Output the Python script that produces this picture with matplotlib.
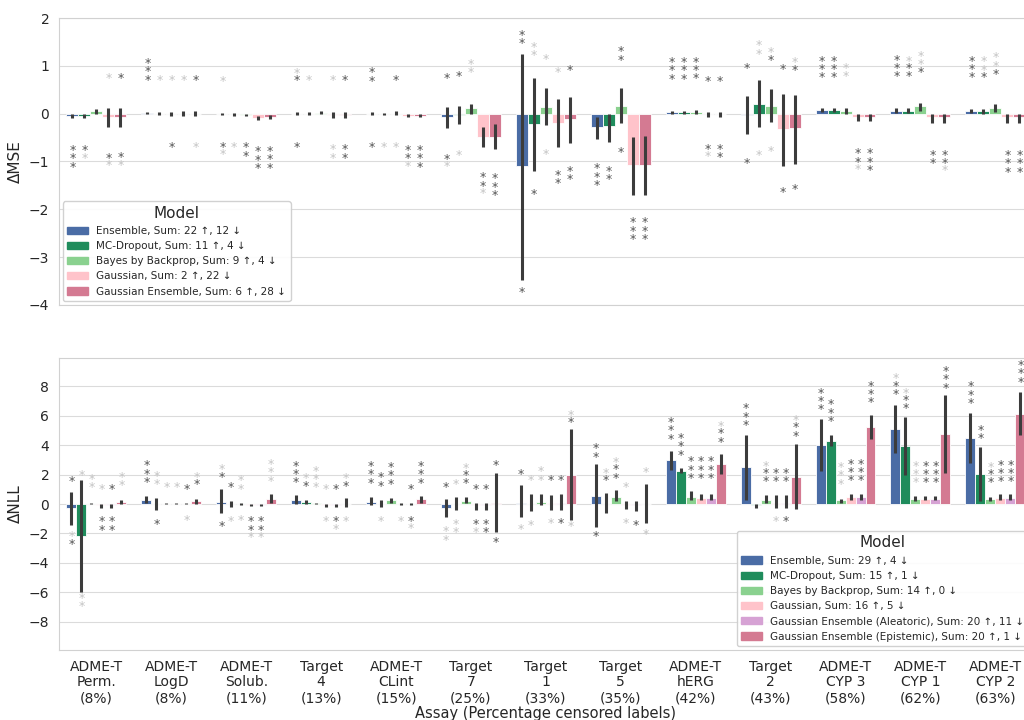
import numpy as np
import matplotlib.pyplot as plt
import seaborn as sns
from itertools import groupby

sns.set_style('whitegrid', {'grid.color': '0.86', 'axes.edgecolor': '0.82'})
plt.rcParams['font.family'] = ['DejaVu Sans']

assays = ['ADME-T\nPerm.\n(8%)', 'ADME-T\nLogD\n(8%)', 'ADME-T\nSolub.\n(11%)', 'Target\n4\n(13%)',
          'ADME-T\nCLint\n(15%)', 'Target\n7\n(25%)', 'Target\n1\n(33%)', 'Target\n5\n(35%)',
          'ADME-T\nhERG\n(42%)', 'Target\n2\n(43%)', 'ADME-T\nCYP 3\n(58%)', 'ADME-T\nCYP 1\n(62%)',
          'ADME-T\nCYP 2\n(63%)']

# ---- top panel: delta MSE ----
mse_models = ['Ensemble', 'MC-Dropout', 'Bayes by Backprop', 'Gaussian', 'Gaussian Ensemble']
mse_n_up = [22, 11, 9, 2, 6]
mse_n_dn = [12, 4, 4, 22, 28]
mse_mean = [
    [-0.05, 0.02, 0.0, 0.0, 0.0, -0.08, -1.1, -0.27, 0.03, -0.02, 0.07, 0.06, 0.05],
    [-0.04, 0.0, 0.0, 0.0, 0.0, -0.02, -0.21, -0.25, 0.03, 0.2, 0.07, 0.06, 0.05],
    [0.05, 0.0, -0.02, 0.02, 0.0, 0.12, 0.14, 0.15, 0.04, 0.17, 0.06, 0.15, 0.11],
    [-0.07, 0.0, -0.1, -0.02, -0.04, -0.48, -0.19, -1.07, 0.0, -0.32, -0.06, -0.08, -0.08],
    [-0.06, 0.0, -0.07, -0.02, -0.04, -0.48, -0.12, -1.07, 0.0, -0.31, -0.06, -0.08, -0.08],
]
mse_lo = [
    [-0.1, 0.0, -0.02, -0.03, -0.02, -0.3, -3.48, -0.52, 0.0, -0.43, 0.03, 0.02, 0.01],
    [-0.09, -0.02, -0.05, -0.02, -0.02, -0.22, -1.19, -0.6, 0.0, -0.27, 0.03, 0.02, 0.0],
    [0.0, -0.05, -0.05, 0.0, -0.03, 0.0, -0.24, -0.2, 0.0, -0.17, 0.0, 0.05, 0.03],
    [-0.28, -0.04, -0.14, -0.09, -0.07, -0.7, -0.69, -1.69, -0.06, -1.09, -0.15, -0.2, -0.2],
    [-0.27, -0.04, -0.12, -0.09, -0.08, -0.73, -0.62, -1.71, -0.06, -1.05, -0.15, -0.2, -0.2],
]
mse_hi = [
    [0.0, 0.04, 0.02, 0.03, 0.03, 0.13, 1.24, -0.06, 0.06, 0.36, 0.11, 0.12, 0.1],
    [0.0, 0.03, 0.02, 0.03, 0.02, 0.16, 0.74, 0.0, 0.06, 0.7, 0.11, 0.12, 0.1],
    [0.1, 0.03, 0.0, 0.05, 0.05, 0.21, 0.54, 0.54, 0.08, 0.52, 0.12, 0.22, 0.2],
    [0.12, 0.05, -0.05, 0.03, -0.01, -0.27, 0.3, -0.48, 0.03, 0.41, 0.0, 0.0, 0.0],
    [0.12, 0.06, -0.03, 0.03, -0.01, -0.22, 0.35, -0.47, 0.04, 0.39, 0.0, 0.0, 0.0],
]
# significance stars: d = dark, l = light, listed from the bar outwards
mse_up_pat = [
    ['', 'ddd', 'l', 'dl', 'dd', 'd', 'dd', '', 'ddd', 'd', 'ddd', 'ddd', 'ddd'],
    ['', 'l', '', 'l', '', 'd', 'll', '', 'ddd', 'll', 'ddd', 'ddl', 'dll'],
    ['', 'l', '', '', 'd', 'll', 'l', 'dd', 'ddd', 'dl', 'll', 'dll', 'dll'],
    ['l', 'l', '', 'l', '', '', 'l', '', 'd', 'd', '', '', ''],
    ['d', 'd', '', 'd', '', '', 'd', '', 'd', 'dl', '', '', ''],
]
mse_up_y = [
    [None, 0.77, 0.74, 0.76, 0.75, 0.81, 1.53, None, 0.79, 1.02, 0.82, 0.84, 0.82],
    [None, 0.76, None, 0.76, None, 0.85, 1.29, None, 0.79, 1.32, 0.82, 0.84, 0.82],
    [None, 0.76, None, None, 0.77, 0.93, 1.2, 1.19, 0.8, 1.19, 0.84, 0.94, 0.9],
    [0.81, 0.76, None, 0.76, None, None, 0.94, None, 0.75, 1.0, None, None, None],
    [0.81, 0.76, None, 0.76, None, None, 0.98, None, 0.75, 0.98, None, None, None],
]
mse_dn_pat = [
    ['ddd', '', 'dl', 'd', 'd', 'dl', 'd', 'ddd', '', 'd', '', '', ''],
    ['dl', '', 'l', '', 'l', 'l', 'd', 'dd', '', 'l', '', '', ''],
    ['', 'd', 'dd', '', 'l', '', 'l', 'd', '', 'l', '', '', ''],
    ['dl', '', 'ddd', 'll', 'ddl', 'ddl', 'dd', 'ddd', 'dl', 'd', 'ddl', 'dd', 'ddd'],
    ['dl', 'l', 'ddd', 'dd', 'ddd', 'ddd', 'dd', 'ddd', 'dd', 'd', 'ddd', 'ddl', 'ddd'],
]
mse_dn_y = [
    [-0.68, None, -0.61, -0.61, -0.61, -0.86, -3.64, -1.06, None, -0.95, None, None, None],
    [-0.68, None, -0.62, None, -0.61, -0.78, -1.6, -1.11, None, -0.78, None, None, None],
    [None, -0.62, -0.62, None, -0.61, None, -0.77, -0.72, None, -0.69, None, None, None],
    [-0.84, None, -0.71, -0.66, -0.68, -1.25, -1.2, -2.19, -0.65, -1.56, -0.75, -0.78, -0.78],
    [-0.82, -0.61, -0.70, -0.66, -0.68, -1.27, -1.11, -2.19, -0.65, -1.5, -0.75, -0.78, -0.78],
]

# ---- bottom panel: delta NLL ----
nll_models = ['Ensemble', 'MC-Dropout', 'Bayes by Backprop', 'Gaussian',
              'Gaussian Ensemble (Aleatoric)', 'Gaussian Ensemble (Epistemic)']
nll_n_up = [29, 15, 14, 16, 20, 20]
nll_n_dn = [4, 1, 0, 5, 11, 1]
nll_mean = [
    [-0.25, 0.3, 0.15, 0.25, 0.15, -0.25, 0.1, 0.55, 2.95, 2.5, 4.0, 5.1, 4.45],
    [-2.15, 0.0, 0.0, 0.12, 0.0, 0.0, 0.0, 0.0, 2.25, -0.1, 4.25, 3.92, 2.05],
    [0.02, 0.02, 0.0, 0.05, 0.25, 0.22, 0.15, 0.5, 0.5, 0.3, 0.25, 0.35, 0.35],
    [-0.1, 0.0, -0.05, -0.05, 0.0, -0.1, 0.05, -0.05, 0.4, 0.1, 0.45, 0.35, 0.4],
    [-0.1, 0.0, -0.05, -0.05, 0.0, -0.1, 0.05, -0.05, 0.4, 0.1, 0.45, 0.35, 0.4],
    [0.14, 0.18, 0.32, 0.03, 0.34, 0.05, 2.0, 0.02, 2.7, 1.85, 5.23, 4.75, 6.13],
]
nll_lo = [
    [-1.44, 0.05, -0.63, 0.0, -0.07, -0.9, -0.9, -1.53, 2.3, 0.27, 2.25, 3.47, 2.77],
    [-5.99, -0.4, -0.2, 0.0, -0.2, -0.4, -0.47, -0.6, 2.1, -0.3, 3.94, 1.96, 0.2],
    [0.0, 0.0, -0.05, 0.0, 0.05, 0.05, -0.1, 0.2, 0.3, 0.1, 0.1, 0.2, 0.2],
    [-0.25, -0.03, -0.15, -0.2, -0.1, -0.4, -0.4, -0.34, 0.25, -0.3, 0.3, 0.25, 0.25],
    [-0.25, -0.03, -0.15, -0.2, -0.1, -0.4, -0.4, -0.45, 0.25, -0.3, 0.3, 0.25, 0.25],
    [0.0, 0.0, 0.05, -0.2, 0.05, -1.89, -1.08, -1.26, 2.03, -0.36, 4.39, 2.12, 4.7],
]
nll_hi = [
    [0.79, 0.56, 1.01, 0.59, 0.5, 0.32, 1.28, 2.7, 3.58, 4.68, 5.79, 6.71, 6.19],
    [1.6, 0.4, 0.2, 0.25, 0.3, 0.45, 0.65, 0.74, 2.45, 0.0, 4.68, 5.88, 3.85],
    [0.1, 0.1, 0.05, 0.1, 0.4, 0.5, 0.7, 0.92, 0.9, 0.6, 0.35, 0.55, 0.5],
    [0.0, 0.05, 0.0, 0.0, 0.05, 0.1, 0.6, 0.2, 0.65, 0.6, 0.7, 0.55, 0.65],
    [0.0, 0.05, 0.0, 0.0, 0.05, 0.1, 0.65, 0.2, 0.65, 0.6, 0.7, 0.55, 0.65],
    [0.3, 0.35, 0.65, 0.4, 0.55, 2.07, 5.1, 1.35, 3.4, 4.08, 6.06, 7.41, 7.6],
]
nll_up_pat = [
    ['d', 'ddd', 'dl', 'ddd', 'ddd', 'd', 'd', 'dd', 'ddd', 'ddd', 'ddd', 'ddl', 'ddd'],
    ['l', 'll', 'd', 'dl', 'dd', 'l', 'l', 'dl', 'ddd', '', 'ddd', 'ddl', 'dd'],
    ['ll', 'l', 'll', 'lll', 'ddd', 'ddl', 'll', 'ddl', 'ddd', 'ddl', 'lll', 'lll', 'ddl'],
    ['l', 'l', '', 'l', '', 'd', 'd', 'l', 'ddd', 'dd', 'ddd', 'ddd', 'ddd'],
    ['d', 'd', '', 'd', 'd', 'd', 'd', '', 'ddd', 'dd', 'ddd', 'ddd', 'ddd'],
    ['ll', 'dl', 'lll', 'dl', 'ddd', 'd', 'dl', 'l', 'ddl', 'ddl', 'ddd', 'ddd', 'ddd'],
]
nll_up_y = [
    [1.78, 1.69, 2.05, 1.67, 1.64, 1.37, 2.25, 3.42, 4.62, 5.54, 6.62, 7.66, 7.05],
    [2.14, 1.53, 1.37, 1.44, 1.44, 1.55, 1.85, 1.8, 3.54, None, 5.81, 6.69, 4.66],
    [1.33, 1.33, 1.24, 1.33, 1.58, 1.62, 1.85, 2.0, 1.96, 1.73, 1.58, 1.67, 1.67],
    [1.24, 1.33, None, 1.24, None, 1.24, 1.8, 1.35, 1.96, 1.73, 1.8, 1.67, 1.73],
    [1.24, 1.24, None, 1.24, 1.24, 1.24, 1.8, None, 1.96, 1.73, 1.8, 1.67, 1.73],
    [1.49, 1.53, 1.78, 1.44, 1.64, 2.86, 5.74, 2.34, 4.44, 4.84, 7.09, 8.09, 8.49],
]
nll_dn_pat = [
    ['ld', '', 'd', '', '', 'll', 'l', 'd', '', '', '', '', ''],
    ['ll', 'd', 'l', '', 'l', 'll', 'l', '', '', '', '', '', ''],
    ['', '', 'l', '', '', '', '', '', '', '', '', '', ''],
    ['dd', '', 'ddl', 'l', 'l', 'dl', 'l', 'l', '', 'l', '', '', ''],
    ['dd', 'l', 'ddl', 'dl', 'dl', 'dd', 'd', 'd', '', 'd', '', '', ''],
    ['', '', '', 'l', '', 'd', 'l', 'l', '', '', '', '', ''],
]
nll_dn_y = [
    [-1.94, None, -1.22, None, None, -1.6, -1.46, -1.9, None, None, None, None, None],
    [-6.08, -1.08, -0.86, None, -0.86, -1.08, -1.13, None, None, None, None, None, None],
    [None, None, -0.81, None, None, None, None, None, None, None, None, None, None],
    [-0.92, None, -0.92, -0.9, -0.86, -1.08, -1.0, -1.04, None, -0.9, None, None, None],
    [-0.92, -0.81, -0.92, -0.9, -0.86, -1.08, -1.0, -1.15, None, -0.9, None, None, None],
    [None, None, None, -0.9, None, -2.3, -1.26, -1.76, None, None, None, None, None],
]

mse_colors = ['#4a6ca5', '#1f8c5c', '#8ad18f', '#ffc3ca', '#d47a92']
nll_colors = ['#4a6ca5', '#1f8c5c', '#8ad18f', '#ffc3ca', '#d6a2d4', '#d47a92']
star_col = {'d': '#555555', 'l': '#c4c4c4'}

STEP = 5.6   # points between stacked stars
FS = 9
LSP = (STEP - 0.21 * FS) / (0.76 * FS)   # matplotlib line step = descent + linespacing * ascent


def stars(ax, x, y, pat, sign):
    # one multi-line text per run of same-coloured stars
    k = 0
    for c, run in groupby(pat):
        n = len(list(run))
        txt = '\n'.join(['*'] * n)
        if sign > 0:
            dy, va = STEP * k - 0.8 * FS, 'bottom'
        else:
            dy, va = -STEP * k + 0.17 * FS, 'top'
        ax.annotate(txt, (x, y), xytext=(0, dy), textcoords='offset points',
                    ha='center', va=va, fontsize=FS, linespacing=LSP,
                    color=star_col[c], zorder=4)
        k += n


def draw(ax, models, colors, mean, lo, hi, up_pat, up_y, dn_pat, dn_y):
    n = len(models)
    w = 0.8 / n
    x = np.arange(len(assays))
    for i in range(n):
        xi = x - 0.4 + w * (i + 0.5)
        ax.bar(xi, mean[i], width=w, color=colors[i], edgecolor='white', linewidth=0.6, zorder=2)
        ax.vlines(xi, lo[i], hi[i], color='#3c3c3c', lw=2.2, zorder=3)
        for j in range(len(x)):
            stars(ax, xi[j], up_y[i][j], up_pat[i][j], 1)
            stars(ax, xi[j], dn_y[i][j], dn_pat[i][j], -1)


fig = plt.figure(figsize=(10.24, 7.2), dpi=100)
ax1 = fig.add_axes([0.0576, 0.5764, 0.951, 0.3986])
ax2 = fig.add_axes([0.0576, 0.0972, 0.951, 0.4056])

draw(ax1, mse_models, mse_colors, mse_mean, mse_lo, mse_hi, mse_up_pat, mse_up_y, mse_dn_pat, mse_dn_y)
draw(ax2, nll_models, nll_colors, nll_mean, nll_lo, nll_hi, nll_up_pat, nll_up_y, nll_dn_pat, nll_dn_y)

for ax in (ax1, ax2):
    ax.set_xlim(-0.5, len(assays) - 0.5)
    ax.set_xticks(np.arange(len(assays)))
    ax.grid(axis='x', visible=False)
    ax.tick_params(labelsize=10)

ax1.set_ylim(-4, 2)
ax1.set_yticks([-4, -3, -2, -1, 0, 1, 2])
ax1.set_xticklabels([])
ax1.set_ylabel('ΔMSE', fontsize=11)

ax2.set_ylim(-9.9, 9.9)
ax2.set_yticks([-8, -6, -4, -2, 0, 2, 4, 6, 8])
ax2.set_xticklabels(assays, fontsize=10, linespacing=1.15)
ax2.set_ylabel('ΔNLL', fontsize=11)
ax2.set_xlabel('Assay (Percentage censored labels)', fontsize=10.5, labelpad=1)

h1 = [plt.Rectangle((0, 0), 1, 1, color=c) for c in mse_colors]
l1 = [f'{m}, Sum: {u} ↑, {d} ↓' for m, u, d in zip(mse_models, mse_n_up, mse_n_dn)]
ax1.legend(h1, l1, title='Model', loc='lower left', fontsize=7.5, title_fontsize=11,
           borderaxespad=0.4, framealpha=0.9)

h2 = [plt.Rectangle((0, 0), 1, 1, color=c) for c in nll_colors]
l2 = [f'{m}, Sum: {u} ↑, {d} ↓' for m, u, d in zip(nll_models, nll_n_up, nll_n_dn)]
ax2.legend(h2, l2, title='Model', loc='lower right', fontsize=7.5, title_fontsize=11,
           borderaxespad=0.4, framealpha=0.9)

fig.savefig('out.png', dpi=100)
